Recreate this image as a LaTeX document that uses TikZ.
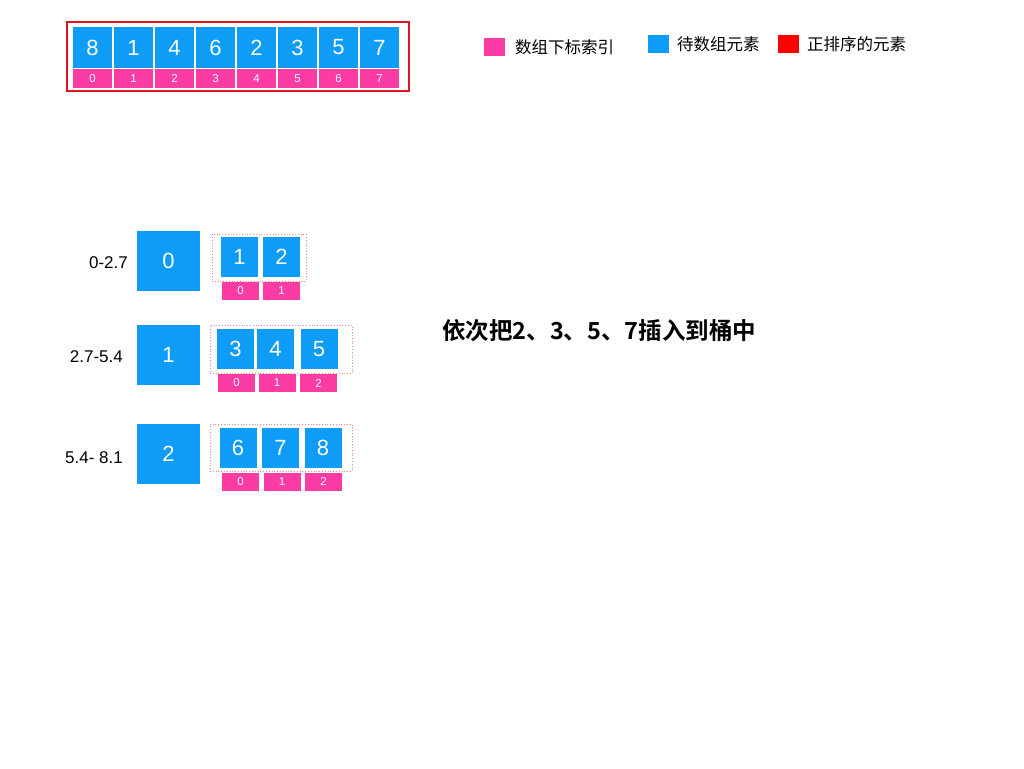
\documentclass[tikz,border=0pt]{standalone}
\usepackage{fontspec}
\setmainfont{Liberation Sans}
\newfontfamily\cjk{Noto Sans CJK SC}
\newfontfamily\cjkbold{Noto Sans CJK SC Bold}
\definecolor{cblue}{HTML}{0E9CF6}
\definecolor{cpink}{HTML}{FA3CA4}
\definecolor{cred}{HTML}{E3141B}
\definecolor{cdot}{HTML}{F08A80}
\tikzset{
  bcell/.style={fill=cblue, inner sep=0, text=white, font=\fontsize{22}{26}\selectfont},
  pcell/.style={fill=cpink, inner sep=0, text=white, font=\fontsize{11.5}{13}\selectfont},
  bigcell/.style={fill=cblue, inner sep=0, text=white, minimum width=63pt, minimum height=60pt, font=\fontsize{22}{26}\selectfont},
  bucketbox/.style={draw=cdot, dotted, line width=0.8pt, inner sep=0},
  rangelabel/.style={anchor=east, inner sep=0, font=\fontsize{17}{20}\selectfont},
  legendsq/.style={inner sep=0, minimum width=21pt, minimum height=18pt},
  legendtext/.style={anchor=west, inner sep=0, font=\cjk\fontsize{16.5}{20}\selectfont},
}
\begin{document}
\begin{tikzpicture}[x=1pt,y=-1pt]
\useasboundingbox[fill=white] (0,0) rectangle (1024,768);
% top array
\node[draw=cred, line width=1.6pt, inner sep=0, minimum width=342pt, minimum height=69pt] (frame) at (238,56.5) {};
\foreach \v [count=\i from 0] in {8,1,4,6,2,3,5,7} {
  \node[bcell, minimum width=39pt, minimum height=41pt] (t\i) at ({92.5+41*\i},47.5) {\v};
  \node[pcell, minimum width=39pt, minimum height=19pt] (ti\i) at ({92.5+41*\i},78.5) {\i};
}
% legend
\node[legendsq, fill=cpink] (lp) at (494.5,47.5) {};
\node[legendtext] (lpt) at (515,47.5) {数组下标索引};
\node[legendsq, fill=cblue] (lb) at (658.5,44.5) {};
\node[legendtext] (lbt) at (677,44.5) {待数组元素};
\node[legendsq, fill=red] (lr) at (788.5,44.5) {};
\node[legendtext] (lrt) at (807,44.5) {正排序的元素};
% bucket 0
\node[rangelabel] (r0) at (128,263) {0-2.7};
\node[bigcell] (k0) at (168.5,261) {0};
\node[bucketbox, minimum width=94pt, minimum height=47pt] (box0) at (259,257.5) {};
\node[bcell, minimum width=37pt, minimum height=40pt] (a00) at (239.5,257) {1};
\node[bcell, minimum width=37pt, minimum height=40pt] (a01) at (281.5,257) {2};
\node[pcell, minimum width=37pt, minimum height=18pt] (i00) at (240.5,291) {0};
\node[pcell, minimum width=37pt, minimum height=18pt] (i01) at (281.5,291) {1};
% bucket 1
\node[rangelabel] (r1) at (123,357) {2.7-5.4};
\node[bigcell] (k1) at (168.5,355) {1};
\node[bucketbox, minimum width=142pt, minimum height=48pt] (box1) at (281,349) {};
\node[bcell, minimum width=37pt, minimum height=40pt] (a10) at (235.5,349) {3};
\node[bcell, minimum width=37pt, minimum height=40pt] (a11) at (275.5,349) {4};
\node[bcell, minimum width=37pt, minimum height=40pt] (a12) at (319,349) {5};
\node[pcell, minimum width=37pt, minimum height=18pt] (i10) at (236.5,383) {0};
\node[pcell, minimum width=37pt, minimum height=18pt] (i11) at (277,383) {1};
\node[pcell, minimum width=37pt, minimum height=18pt] (i12) at (318.5,383) {2};
% bucket 2
\node[rangelabel] (r2) at (123,458) {5.4- 8.1};
\node[bigcell] (k2) at (168.5,454) {2};
\node[bucketbox, minimum width=142pt, minimum height=47pt] (box2) at (281,447.5) {};
\node[bcell, minimum width=37pt, minimum height=40pt] (a20) at (238,448) {6};
\node[bcell, minimum width=37pt, minimum height=40pt] (a21) at (280.5,448) {7};
\node[bcell, minimum width=37pt, minimum height=40pt] (a22) at (323,448) {8};
\node[pcell, minimum width=37pt, minimum height=18pt] (i20) at (240.5,481.5) {0};
\node[pcell, minimum width=37pt, minimum height=18pt] (i21) at (282,481.5) {1};
\node[pcell, minimum width=37pt, minimum height=18pt] (i22) at (323.5,481.5) {2};
% title
\node[anchor=west, inner sep=0, font=\cjkbold\fontsize{23.5}{28}\selectfont] (title) at (442,331) {依次把2、3、5、7插入到桶中};
\end{tikzpicture}
\end{document}
